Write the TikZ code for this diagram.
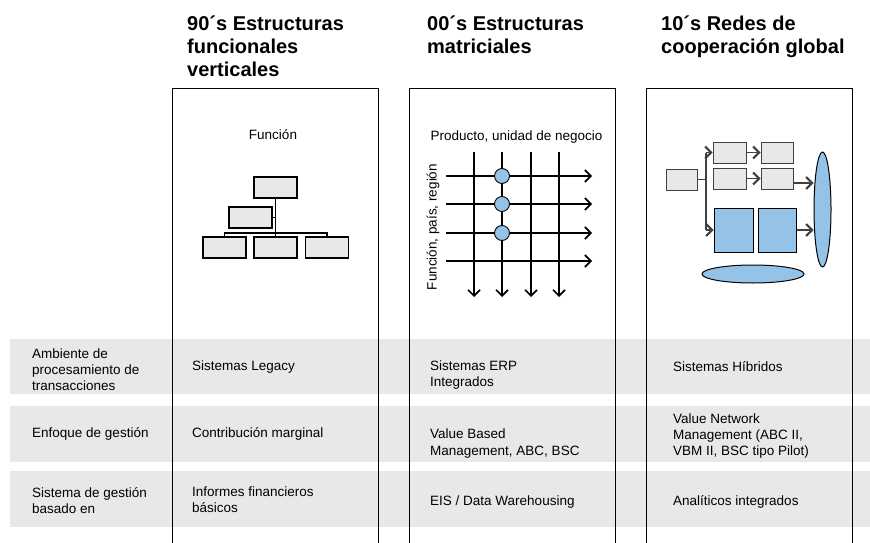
\documentclass[tikz,border=0pt]{standalone}
\usepackage{fontspec}
\setmainfont{Liberation Sans}
\usetikzlibrary{arrows.meta,shapes.geometric}
\definecolor{bandgray}{HTML}{E8E8E8}
\definecolor{boxgray}{HTML}{E8E8E8}
\definecolor{lblue}{HTML}{95C3E8}
\definecolor{dgray}{HTML}{404040}
\begin{document}
\begin{tikzpicture}[x=1pt,y=-1pt,
 title/.style={anchor=base west, align=left, font=\fontsize{20}{23.5}\selectfont\bfseries, inner sep=0pt},
 txt/.style={anchor=west, align=left, font=\fontsize{13.5}{16.3}\selectfont, inner sep=0pt},
 lbl/.style={font=\fontsize{13.5}{16}\selectfont, inner sep=0pt},
 band/.style={fill=bandgray},
 colbox/.style={draw=black, line width=1pt},
 orgbox/.style={draw=black, fill=boxgray, line width=1.6pt, minimum width=43pt, minimum height=21pt, inner sep=0pt},
 orgline/.style={draw=black, line width=1.6pt},
 marr/.style={draw=black, line width=1.1pt, -{Straight Barb[length=6pt,width=12pt,line width=1.6pt]}},
 dot/.style={circle, draw=black, fill=lblue, line width=0.9pt, minimum size=15pt, inner sep=0pt},
 gbox/.style={draw=dgray, fill=boxgray, line width=1pt, minimum width=33pt, minimum height=21pt, inner sep=0pt},
 bbox/.style={draw=black, fill=lblue, line width=1pt, minimum height=44pt, inner sep=0pt},
 ell/.style={ellipse, draw=black, fill=lblue, line width=1pt, inner sep=0pt},
 conn/.style={draw=dgray, line width=1.5pt},
 carr/.style={draw=dgray, line width=1.2pt, -{Straight Barb[length=6pt,width=12pt,line width=2pt]}}
]
\useasboundingbox (0,0) rectangle (870,543);
\clip (0,0) rectangle (870,543);

% bands
\fill[band] (10,339) rectangle (870,394);
\fill[band] (10,406) rectangle (870,462);
\fill[band] (10,471) rectangle (870,527);

% column boxes
\draw[colbox] (172,560) -- (172,88) -- (378,88) -- (378,560);
\draw[colbox] (409,560) -- (409,88) -- (615,88) -- (615,560);
\draw[colbox] (646,560) -- (646,88) -- (852,88) -- (852,560);

% titles (anchor = baseline of the last line)
\node[title] (t1) at (187,77) {90´s Estructuras\\funcionales\\verticales};
\node[title] (t2) at (427,53.5) {00´s Estructuras\\matriciales};
\node[title] (t3) at (661,53.5) {10´s Redes de\\cooperación global};

% column 1: org chart
\node[lbl] (fun) at (273,135) {Función};
\node[orgbox] (o1) at (275.5,187.5) {};
\node[orgbox] (o2) at (250.5,217.5) {};
\node[orgbox] (o3) at (224.5,247.5) {};
\node[orgbox] (o4) at (275.5,247.5) {};
\node[orgbox] (o5) at (327,247.5) {};
\coordinate (oj) at (275.5,233);
\draw[orgline] (o1.south) -- (oj) -- (o4.north);
\draw[orgline] (o3.north) -- (o3.north |- oj) -- (o5.north |- oj) -- (o5.north);
\draw[orgline] (o2.east) -- (o2.east -| oj);

% column 2: matrix
\node[lbl] (prod) at (516.5,137) {Producto, unidad de negocio};
\node[lbl, rotate=90] (fpr) at (433,227) {Función, país, región};
\foreach \i/\x in {1/474,2/502,3/531,4/559}{
  \coordinate (vt\i) at (\x,152);
  \coordinate (vb\i) at (\x,297);
  \draw[marr] (vt\i) -- (vb\i);
}
\foreach \i/\y in {1/176,2/204,3/233,4/261}{
  \coordinate (hl\i) at (446,\y);
  \coordinate (hr\i) at (592,\y);
  \draw[marr] (hl\i) -- (hr\i);
}
\node[dot] (c1) at (502,176) {};
\node[dot] (c2) at (502,204) {};
\node[dot] (c3) at (502,233) {};

% column 3: network
\node[gbox, minimum width=31pt] (L) at (681.5,179.5) {};
\node[gbox] (A) at (729.5,152.5) {};
\node[gbox, minimum width=32pt] (B) at (777,152.5) {};
\node[gbox] (A2) at (729.5,178.5) {};
\node[gbox, minimum width=32pt] (B2) at (777,178.5) {};
\node[bbox, minimum width=39pt] (C1) at (733.5,230) {};
\node[bbox, minimum width=38pt] (C2) at (777,230) {};
\node[ell, minimum width=17pt, minimum height=115pt] (V) at (822.5,209.5) {};
\node[ell, minimum width=102pt, minimum height=18pt] (H) at (753,274) {};
\coordinate (jt) at (706,152.5);
\coordinate (jb) at (706,230);
\draw[conn] (jt) -- (jb);
\draw[conn] (L.east) -- (L.east -| jt);
\draw[carr] (jt) -- (A.west);
\draw[carr] (jb) -- (C1.west);
\draw[carr] (A.east) -- (B.west);
\draw[carr] (A2.east) -- (B2.west);
\draw[carr] ([yshift=-4.5pt]B2.east) -- ([yshift=-4.5pt]B2.east -| V.west);
\draw[carr] (C2.east) -- (C2.east -| V.west);

% row labels
\node[txt] (r1) at (32,369.5) {Ambiente de\\procesamiento de\\transacciones};
\node[txt] (r2) at (32,434) {Enfoque de gestión};
\node[txt] (r3) at (32,500.5) {Sistema de gestión\\basado en};

% column 1 cells
\node[txt] (a1) at (192,367) {Sistemas Legacy};
\node[txt] (a2) at (192,434) {Contribución marginal};
\node[txt] (a3) at (192,499.5) {Informes financieros\\básicos};

% column 2 cells
\node[txt] (b1) at (430,375) {Sistemas ERP\\Integrados};
\node[txt] (b2) at (430,443.5) {Value Based\\Management, ABC, BSC};
\node[txt] (b3) at (430,502) {EIS / Data Warehousing};

% column 3 cells
\node[txt] (d1) at (673,367) {Sistemas Híbridos};
\node[txt] (d2) at (673,436) {Value Network\\Management (ABC II,\\VBM II, BSC tipo Pilot)};
\node[txt] (d3) at (673,502) {Analíticos integrados};
\end{tikzpicture}
\end{document}
